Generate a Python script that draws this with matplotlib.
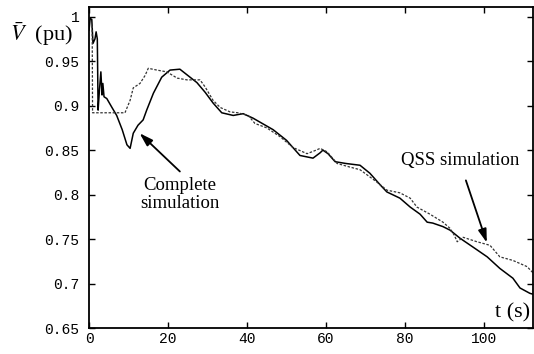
import matplotlib
matplotlib.use("Agg")
import matplotlib.pyplot as plt

plt.rcParams["mathtext.fontset"] = "stix"

# Complete simulation (solid)
t_complete = [0.0, 0.3, 0.7, 1.0, 1.5, 1.8, 2.1, 2.3, 2.6, 3.0, 3.3, 3.5, 3.8, 4.5, 5.8, 7.0, 8.4, 9.6, 10.4,
              11.2, 12.4, 13.7, 14.6, 16.3, 18.4, 20.5, 23.0, 25.0, 27.3, 29.4, 31.4, 33.6, 36.5,
              39.0, 41.5, 46.6, 50.0, 53.4, 56.7, 58.5, 59.2, 60.5, 62.3, 65.0, 68.6, 71.1, 73.7,
              75.4, 78.7, 81.3, 83.8, 85.6, 87.0, 89.6, 91.4, 93.9, 97.2, 100.8, 104.0, 107.3,
              109.1, 111.6, 112.4]
v_complete = [0.985, 0.998, 0.997, 0.970, 0.975, 0.983, 0.975, 0.895, 0.915, 0.938, 0.912, 0.925, 0.910, 0.908,
              0.898, 0.889, 0.873, 0.856, 0.852, 0.869, 0.878, 0.884, 0.895, 0.914, 0.932, 0.940,
              0.941, 0.934, 0.926, 0.915, 0.903, 0.892, 0.889, 0.891, 0.886, 0.873, 0.861, 0.844,
              0.841, 0.847, 0.850, 0.846, 0.837, 0.835, 0.833, 0.824, 0.811, 0.803, 0.796, 0.786,
              0.778, 0.769, 0.768, 0.764, 0.760, 0.751, 0.741, 0.730, 0.717, 0.706, 0.695, 0.689,
              0.688]

# QSS simulation (dashed)
t_qss = [0.8, 0.9, 2.3, 5.0, 9.1, 10.4, 11.2, 12.9, 14.2, 15.0, 17.2, 19.7, 22.3, 24.8, 28.1,
         29.4, 31.4, 33.2, 35.7, 37.7, 40.3, 42.0, 45.0, 48.4, 51.6, 55.2, 57.5, 58.5, 60.3,
         62.8, 66.0, 68.6, 72.9, 75.4, 78.7, 81.3, 83.0, 86.3, 89.6, 91.4, 92.5, 93.2, 94.7,
         98.2, 101.5, 104.0, 107.3, 110.9, 112.4]
v_qss = [0.990, 0.892, 0.892, 0.892, 0.892, 0.906, 0.920, 0.925, 0.934, 0.942, 0.940, 0.938,
         0.931, 0.929, 0.929, 0.921, 0.906, 0.898, 0.893, 0.892, 0.889, 0.880, 0.875, 0.865,
         0.853, 0.846, 0.850, 0.852, 0.848, 0.835, 0.831, 0.828, 0.814, 0.805, 0.802, 0.796,
         0.786, 0.778, 0.769, 0.762, 0.754, 0.747, 0.752, 0.747, 0.743, 0.730, 0.726, 0.719,
         0.712]

y_ticks = [0.65, 0.7, 0.75, 0.8, 0.85, 0.9, 0.95, 1.0]
y_tick_labels = ["0.65", "0.7", "0.75", "0.8", "0.85", "0.9", "0.95", "1"]
x_ticks = [0, 20, 40, 60, 80, 100]
x_tick_labels = ["0", "20", "40", "60", "80", "100"]

fig = plt.figure(figsize=(5.34, 3.54), dpi=100)
ax = fig.add_axes([0.1667, 0.0734, 0.8315, 0.907])

ax.plot(t_complete, v_complete, color="black", lw=1.1, solid_joinstyle="round")
ax.plot(t_qss, v_qss, color="#333333", lw=0.9, linestyle=(0, (2.0, 1.3)))

ax.set_xlim(0, 112.4)
ax.set_ylim(0.65, 1.011)
ax.set_xticks(x_ticks)
ax.set_xticklabels(x_tick_labels)
ax.set_yticks(y_ticks)
ax.set_yticklabels(y_tick_labels)
ax.tick_params(direction="in", length=4, width=1, top=True, right=True,
               labelsize=10.5)
ax.tick_params(axis="y", pad=7)
ax.tick_params(axis="x", pad=3)
for lab in ax.get_xticklabels() + ax.get_yticklabels():
    lab.set_family("Liberation Mono")
for sp in ax.spines.values():
    sp.set_linewidth(1.3)

serif = "Liberation Serif"
fig.text(0.018, 0.905, r"$\bar{V}$  (pu)", fontsize=16, family=serif,
         ha="left", va="center")
ax.text(107.1, 0.656, "t (s)", fontsize=16, family=serif, ha="center", va="bottom")

arrow = dict(arrowstyle="-|>,head_length=0.8,head_width=0.25",
             color="black", lw=1.3, shrinkA=0, shrinkB=0)
ax.text(23.0, 0.800, "Complete\nsimulation", fontsize=13.5, family=serif,
        ha="center", va="center", linespacing=1.05)
ax.annotate("", xy=(12.8, 0.869), xytext=(23.0, 0.826), arrowprops=arrow)
ax.text(93.9, 0.838, "QSS simulation", fontsize=13.5, family=serif,
        ha="center", va="center")
ax.annotate("", xy=(100.7, 0.746), xytext=(95.4, 0.816), arrowprops=arrow)

fig.savefig("out.png", dpi=100)
